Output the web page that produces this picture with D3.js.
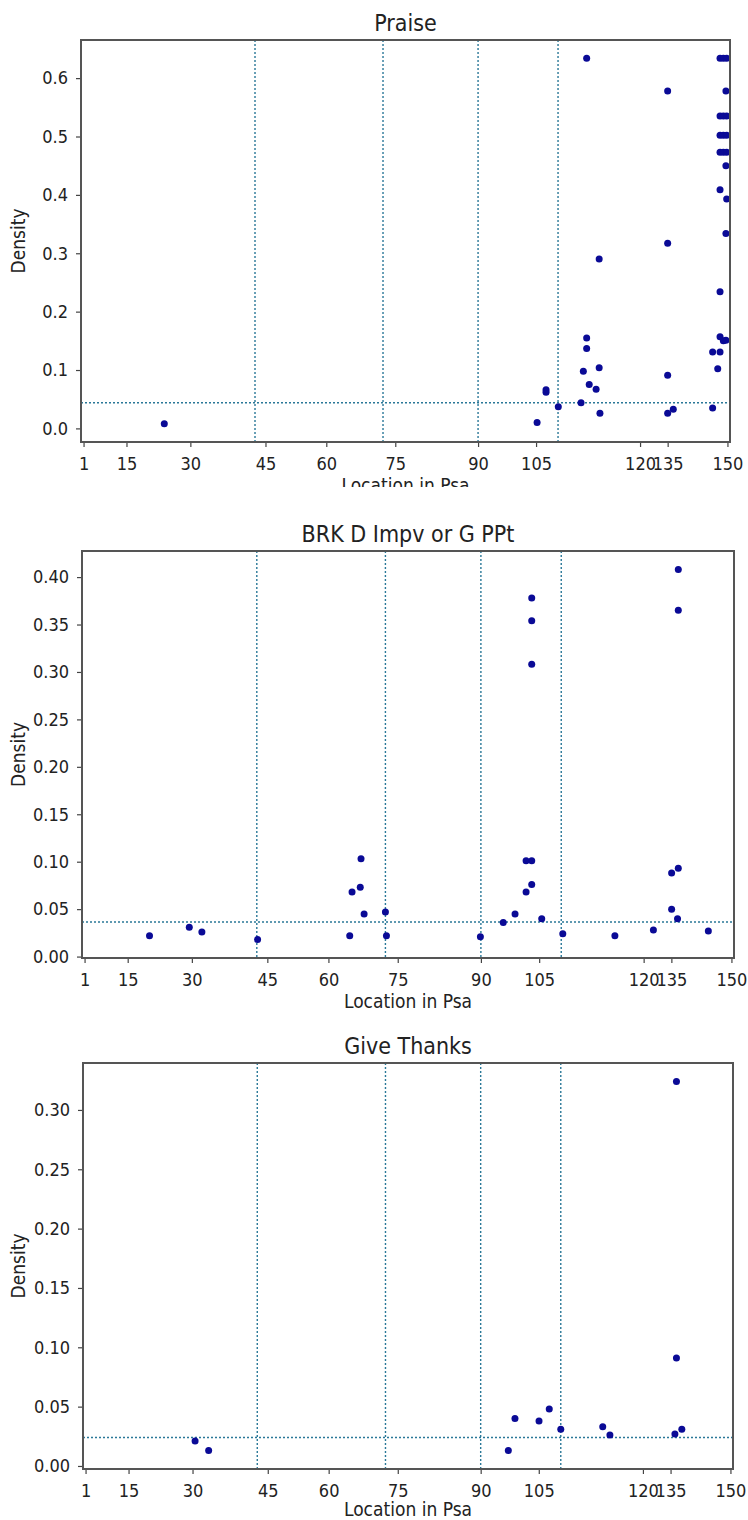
<!DOCTYPE html>
<html>
<head>
<meta charset="utf-8">
<script src="https://cdn.jsdelivr.net/npm/d3@7"></script>
<style>
  body { margin: 0; background: #fff; }
  text { font-family: "DejaVu Sans Condensed", "DejaVu Sans", sans-serif; fill: #222; }
</style>
</head>
<body>
<div id="chart"></div>
<script>
// x axis is position in the book, ticks labelled by psalm number
const tickLabels = [1, 15, 30, 45, 60, 75, 90, 105, 120, 135, 150];
const tickLocs = [10, 178, 428, 722, 960, 1230, 1554, 1781, 2188, 2296, 2530];
const bookBreaks = [681, 1182, 1554, 1867];

const praiseLoc = [326, 1785, 1820, 1820, 1868, 1957, 1966, 1979, 1979, 1979, 1989, 2016, 2028, 2028, 2031,
  2296, 2296, 2296, 2296, 2318, 2472, 2472, 2492, 2501, 2501, 2501, 2501,
  2501, 2514, 2527, 2501, 2514, 2527, 2501, 2514, 2527, 2501, 2514, 2527,
  2514, 2524, 2524, 2524, 2524, 2527];
const praiseDensity = [0.008, 0.010, 0.066, 0.062, 0.037, 0.044, 0.098, 0.634, 0.155, 0.137, 0.075, 0.067, 0.290, 0.104, 0.026,
  0.578, 0.317, 0.091, 0.026, 0.033, 0.035, 0.131, 0.102, 0.131, 0.409, 0.234, 0.157,
  0.634, 0.634, 0.634, 0.535, 0.535, 0.535, 0.502, 0.502, 0.502, 0.473, 0.473, 0.473,
  0.150, 0.151, 0.450, 0.334, 0.578, 0.393];
const praiseMean = 0.044;

const brkLoc = [263, 418, 467, 684, 1043, 1052, 1084, 1087, 1099, 1182, 1186, 1552, 1641, 1687, 1730, 1730,
  1752, 1752, 1752, 1752, 1752, 1791, 1873, 2076, 2226, 2297, 2297, 2320, 2323, 2323, 2323, 2440];
const brkDensity = [0.022, 0.031, 0.026, 0.018, 0.022, 0.068, 0.073, 0.103, 0.045, 0.047, 0.022, 0.021, 0.036, 0.045, 0.068, 0.101,
  0.101, 0.076, 0.378, 0.354, 0.308, 0.040, 0.024, 0.022, 0.028, 0.088, 0.050, 0.040, 0.093, 0.408, 0.365, 0.027];
const brkMean = 0.0365;

const thanksLoc = [438, 491, 1662, 1688, 1782, 1822, 1867, 2031, 2059, 2313, 2319, 2319, 2340];
const thanksDensity = [0.021, 0.013, 0.013, 0.040, 0.038, 0.048, 0.031, 0.033, 0.026, 0.027, 0.324, 0.091, 0.031];
const thanksMean = 0.024;

const width = 748, height = 1520;

const panels = [
  {title: "Praise", loc: praiseLoc, dens: praiseDensity, mean: praiseMean,
   left: 81, right: 730, top: 40, bottom: 442, step: 0.1, fmt: ".1f", clipY: 487, xlab: 50},
  {title: "BRK D Impv or G PPt", loc: brkLoc, dens: brkDensity, mean: brkMean,
   left: 82, right: 734, top: 551, bottom: 958, step: 0.05, fmt: ".2f", xlab: 50},
  {title: "Give Thanks", loc: thanksLoc, dens: thanksDensity, mean: thanksMean,
   left: 83, right: 733, top: 1063, bottom: 1469, step: 0.05, fmt: ".2f", xlab: 47}
];

const svg = d3.select("#chart").append("svg")
  .attr("width", width)
  .attr("height", height);

svg.append("rect").attr("width", width).attr("height", height).attr("fill", "#fff");

const lineColor = "#2a7898";
const dotColor = "#0a0a96";

panels.forEach(function(p, k) {
  const g = svg.append("g");

  if (p.clipY) {
    svg.append("clipPath").attr("id", "clip" + k)
      .append("rect").attr("x", 0).attr("y", 0).attr("width", width).attr("height", p.clipY);
    g.attr("clip-path", "url(#clip" + k + ")");
  }

  // matplotlib style 5% margins around the data
  const ext = d3.extent(p.dens);
  const pad = (ext[1] - ext[0]) * 0.05;

  const x = d3.scaleLinear().domain([0, 2540]).range([p.left, p.right]);
  const y = d3.scaleLinear().domain([ext[0] - pad, ext[1] + pad]).range([p.bottom, p.top]);

  // book divisions
  g.selectAll(".book")
    .data(bookBreaks)
    .enter().append("line")
    .attr("x1", d => x(d)).attr("x2", d => x(d))
    .attr("y1", p.top).attr("y2", p.bottom)
    .attr("stroke", lineColor)
    .attr("stroke-width", 1.4)
    .attr("stroke-dasharray", "2,2");

  // mean density
  g.append("line")
    .attr("x1", p.left).attr("x2", p.right)
    .attr("y1", y(p.mean)).attr("y2", y(p.mean))
    .attr("stroke", lineColor)
    .attr("stroke-width", 1.4)
    .attr("stroke-dasharray", "2,2");

  g.selectAll(".dot")
    .data(p.loc.map((d, i) => [d, p.dens[i]]))
    .enter().append("circle")
    .attr("cx", d => x(d[0]))
    .attr("cy", d => y(d[1]))
    .attr("r", 3.5)
    .attr("fill", dotColor);

  // axes
  const xAxis = d3.axisBottom(x)
    .tickValues(tickLocs)
    .tickFormat((d, i) => tickLabels[i])
    .tickSize(5)
    .tickPadding(10);

  const yTicks = d3.range(0, ext[1] + pad, p.step).map(v => +v.toFixed(3));
  const yAxis = d3.axisLeft(y)
    .tickValues(yTicks)
    .tickFormat(d3.format(p.fmt))
    .tickSize(5)
    .tickPadding(8);

  const gx = g.append("g").attr("transform", "translate(0," + p.bottom + ")").call(xAxis);
  const gy = g.append("g").attr("transform", "translate(" + p.left + ",0)").call(yAxis);

  [gx, gy].forEach(function(a) {
    a.select(".domain").remove();
    a.selectAll(".tick line").attr("stroke", "#444").attr("stroke-width", 1.2);
    a.selectAll(".tick text").attr("font-size", 18).attr("fill", "#222")
      .style("font-family", "'DejaVu Sans Condensed', 'DejaVu Sans', sans-serif");
  });

  // frame
  g.append("rect")
    .attr("x", p.left).attr("y", p.top)
    .attr("width", p.right - p.left)
    .attr("height", p.bottom - p.top)
    .attr("fill", "none")
    .attr("stroke", "#555")
    .attr("stroke-width", 2);

  const cx = (p.left + p.right) / 2;

  g.append("text")
    .attr("x", cx).attr("y", p.top - 9)
    .attr("text-anchor", "middle")
    .attr("font-size", 23)
    .text(p.title);

  g.append("text")
    .attr("x", cx).attr("y", p.bottom + p.xlab)
    .attr("text-anchor", "middle")
    .attr("font-size", 19)
    .text("Location in Psa");

  g.append("text")
    .attr("transform", "translate(25," + (p.top + p.bottom) / 2 + ") rotate(-90)")
    .attr("text-anchor", "middle")
    .attr("font-size", 19)
    .text("Density");
});
</script>
</body>
</html>
